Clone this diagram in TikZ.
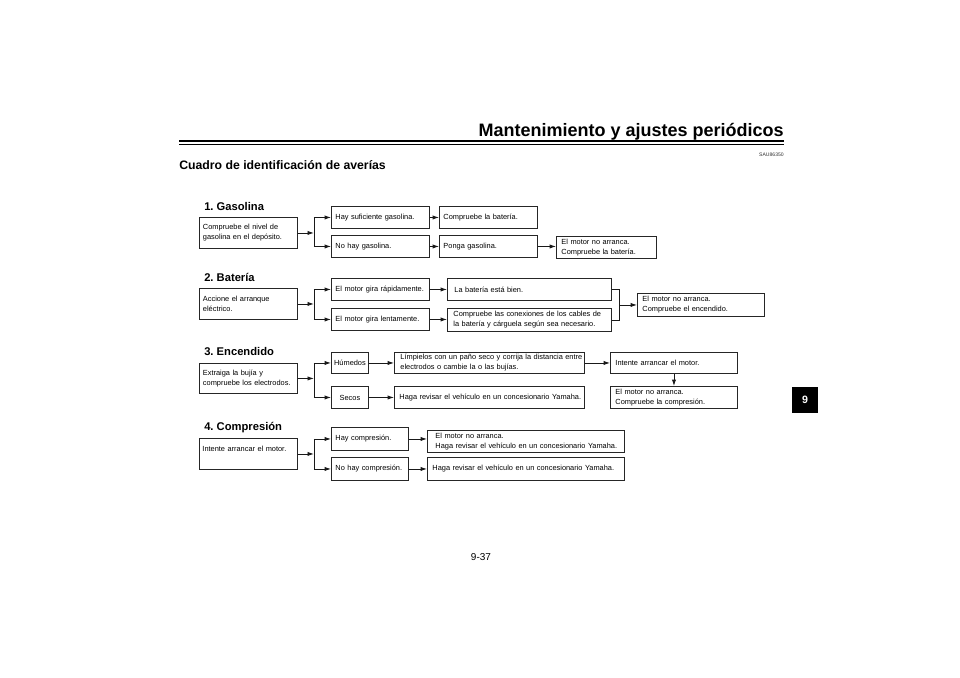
\documentclass[tikz,border=0pt]{standalone}
\usepackage{fontspec}
\setmainfont{Liberation Sans}
\usetikzlibrary{arrows.meta,calc}
\frenchspacing
\begin{document}
\begin{tikzpicture}[x=0.75pt,y=-0.75pt,
  ln/.style={draw=black!90,line width=0.65pt},
  arr/.style={ln,-{Latex[length=4.8pt,width=3.2pt]}},
  bx/.code n args={3}{\pgfmathsetmacro\bxw{(#1-2*#3)*0.75}\pgfmathsetmacro\bxh{#2*0.75}\pgfmathsetmacro\bxi{#3*0.75}%
     \pgfkeysalso{draw=black!85,line width=0.7pt,anchor=north west,align=left,text width=\bxw pt,
     minimum height=\bxh pt,inner xsep=\bxi pt,inner ysep=0pt,font=\fontsize{5.55}{7.6}\selectfont,text=black}},
  cbx/.code n args={2}{\pgfmathsetmacro\bxw{#1*0.75}\pgfmathsetmacro\bxh{#2*0.75}%
     \pgfkeysalso{draw=black!85,line width=0.7pt,anchor=north west,align=center,minimum width=\bxw pt,
     minimum height=\bxh pt,inner sep=0pt,font=\fontsize{5.55}{7.6}\selectfont,text=black}},
  sect/.style={anchor=west,font=\bfseries\fontsize{8.4}{10}\selectfont,inner sep=0pt}]
\useasboundingbox (0,0) rectangle (960,678);
\fill[white] (0,0) rectangle (960,678);

% header
\node[anchor=base east,inner sep=0pt,font=\bfseries\fontsize{13.5}{16}\selectfont] (hdr) at (784,136) {Mantenimiento y ajustes periódicos};
\draw[line width=1.5pt] (179,141) -- (784,141);
\draw[line width=0.7pt] (179,144.5) -- (784,144.5);
\node[anchor=east,inner sep=0pt,font=\fontsize{3.8}{4.5}\selectfont,text=black!80] (code) at (784,155) {SAU86350};
\node[anchor=west,inner sep=0pt,font=\bfseries\fontsize{9.2}{11}\selectfont] (title) at (179,165) {Cuadro de identificación de averías};

% tab and page number
\node[fill=black,text=white,minimum width=19.5pt,minimum height=19.5pt,inner sep=0pt,font=\bfseries\fontsize{8}{9}\selectfont] (tab) at (805,400) {9};
\node[inner sep=0pt,font=\fontsize{7.5}{9}\selectfont] (pg) at (481,557) {9-37};

% ---------- 1. Gasolina
\node[sect] (s1) at (204,206) {1. Gasolina};
\node[bx={98}{31}{3.5}] (g0) at (199,217) {\mbox{Compruebe el nivel de}\\\mbox{gasolina en el depósito.}};
\node[bx={98}{22}{4}] (g1) at (331,206) {\mbox{Hay suficiente gasolina.}};
\node[bx={98}{22}{4}] (g2) at (331,235) {\mbox{No hay gasolina.}};
\node[bx={98}{22}{4}] (g3) at (439,206) {\mbox{Compruebe la batería.}};
\node[bx={98}{22}{4}] (g4) at (439,235) {\mbox{Ponga gasolina.}};
\node[bx={100}{22}{5}] (g5) at (556,236) {\mbox{El motor no arranca.}\\\mbox{Compruebe la batería.}};
\coordinate (j1) at ($(g0.east)+(16,0)$);
\draw[arr] (g0.east) -- (j1);
\draw[ln] (j1 |- g1.west) -- (j1 |- g2.west);
\draw[arr] (j1 |- g1.west) -- (g1.west);
\draw[arr] (j1 |- g2.west) -- (g2.west);
\draw[arr] (g1.east) -- (g3.west);
\draw[arr] (g2.east) -- (g4.west);
\draw[arr] (g4.east) -- (g4.east -| g5.west);

% ---------- 2. Bateria
\node[sect] (s2) at (204,277) {2. Batería};
\node[bx={98}{31}{3.5}] (b0) at (199,288) {\mbox{Accione el arranque}\\\mbox{eléctrico.}};
\node[bx={98}{22}{4}] (b1) at (331,278) {\mbox{El motor gira rápidamente.}};
\node[bx={98}{22}{4}] (b2) at (331,308) {\mbox{El motor gira lentamente.}};
\node[bx={164}{22}{7}] (b3) at (447,278) {\mbox{La batería está bien.}};
\node[bx={164}{23}{6}] (b4) at (447,308) {\mbox{Compruebe las conexiones de los cables de}\\\mbox{la batería y cárguela según sea necesario.}};
\node[bx={127}{23}{5}] (b5) at (637,293) {\mbox{El motor no arranca.}\\\mbox{Compruebe el encendido.}};
\coordinate (j2) at ($(b0.east)+(16,0)$);
\draw[arr] (b0.east) -- (j2);
\draw[ln] (j2 |- b1.west) -- (j2 |- b2.west);
\draw[arr] (j2 |- b1.west) -- (b1.west);
\draw[arr] (j2 |- b2.west) -- (b2.west);
\draw[arr] (b1.east) -- (b1.east -| b3.west);
\draw[arr] (b2.east) -- (b2.east -| b4.west);
\coordinate (m2) at ($(b5.west)+(-18,0)$);
\draw[ln] (b3.east) -- (b3.east -| m2) -- (b4.east -| m2) -- (b4.east);
\draw[arr] (m2) -- (b5.west);

% ---------- 3. Encendido
\node[sect] (s3) at (204,352) {3. Encendido};
\node[bx={98}{30}{3.5}] (e0) at (199,363) {\mbox{Extraiga la bujía y}\\\mbox{compruebe los electrodos.}};
\node[cbx={37}{21}] (e1) at (331,352) {Húmedos};
\node[cbx={37}{22}] (e2) at (331,386) {Secos};
\node[bx={190}{21}{6}] (e3) at (394,352) {\mbox{Límpielos con un paño seco y corrija la distancia entre}\\\mbox{electrodos o cambie la o las bujías.}};
\node[bx={190}{22}{5}] (e4) at (394,386) {\mbox{Haga revisar el vehículo en un concesionario Yamaha.}};
\node[bx={127}{21}{5}] (e5) at (610,352) {\mbox{Intente arrancar el motor.}};
\node[bx={127}{22}{5}] (e6) at (610,386) {\mbox{El motor no arranca.}\\\mbox{Compruebe la compresión.}};
\coordinate (j3) at ($(e0.east)+(16,0)$);
\draw[arr] (e0.east) -- (j3);
\draw[ln] (j3 |- e1.west) -- (j3 |- e2.west);
\draw[arr] (j3 |- e1.west) -- (e1.west);
\draw[arr] (j3 |- e2.west) -- (e2.west);
\draw[arr] (e1.east) -- (e1.east -| e3.west);
\draw[arr] (e2.east) -- (e2.east -| e4.west);
\draw[arr] (e3.east) -- (e3.east -| e5.west);
\draw[arr] (e5.south) -- (e6.north);

% ---------- 4. Compresion
\node[sect] (s4) at (204,428) {4. Compresión};
\node[bx={98}{31}{3}] (c0) at (199,438) {\mbox{Intente arrancar el motor.}\\\mbox{}};
\node[bx={77}{23}{4}] (c1) at (331,427) {\mbox{Hay compresión.}};
\node[bx={77}{23}{4}] (c2) at (331,457) {\mbox{No hay compresión.}};
\node[bx={197}{22}{8}] (c3) at (427,430) {\mbox{El motor no arranca.}\\\mbox{Haga revisar el vehículo en un concesionario Yamaha.}};
\node[bx={197}{23}{5}] (c4) at (427,457) {\mbox{Haga revisar el vehículo en un concesionario Yamaha.}};
\coordinate (j4) at ($(c0.east)+(16,0)$);
\draw[arr] (c0.east) -- (j4);
\draw[ln] (j4 |- c1.west) -- (j4 |- c2.west);
\draw[arr] (j4 |- c1.west) -- (c1.west);
\draw[arr] (j4 |- c2.west) -- (c2.west);
\draw[arr] (c1.east) -- (c1.east -| c3.west);
\draw[arr] (c2.east) -- (c2.east -| c4.west);
\end{tikzpicture}
\end{document}
